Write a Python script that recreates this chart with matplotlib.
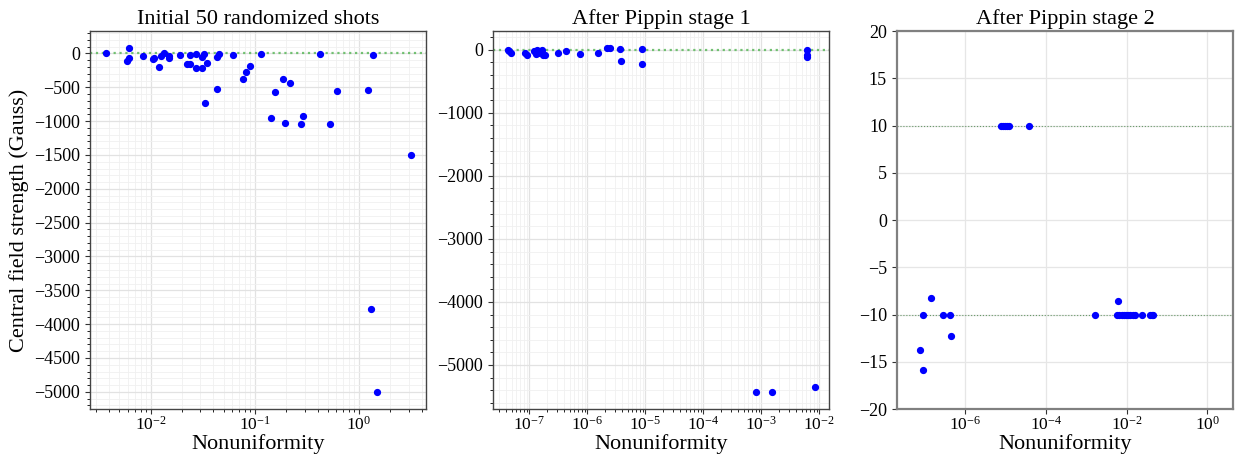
import numpy as np
import matplotlib
matplotlib.use('Agg')
import matplotlib.pyplot as plt

plt.rcParams['font.family'] = ['Liberation Serif', 'DejaVu Serif']
plt.rcParams['mathtext.fontset'] = 'stix'
plt.rcParams['axes.unicode_minus'] = True

# datos leidos del grafico
# panel 1: disparos iniciales
x1 = [0.0037, 0.0062, 0.00597, 0.00624, 0.00838, 0.01045, 0.01084, 0.0120, 0.01257, 0.0133,
      0.0149, 0.0151, 0.0191, 0.0225, 0.0239, 0.0237, 0.0270, 0.0270, 0.0311, 0.0313,
      0.0327, 0.0330, 0.0347, 0.0431, 0.0434, 0.0450, 0.0617, 0.0776, 0.0829, 0.0905,
      0.1138, 0.142, 0.157, 0.186, 0.193, 0.219, 0.277, 0.288, 0.423, 0.531,
      0.615, 1.23, 1.35, 3.13, 1.30, 1.50]
y1 = [10, 78, -113, -69, -34, -78, -64, -201, -39, 8,
      -39, -69, -20, -162, -157, -29, -15, -221, -49, -221,
      -15, -735, -137, -529, -59, -15, -20, -372, -270, -191,
      -10, -960, -564, -377, -1029, -441, -1044, -931, -5, -1039,
      -554, -539, -20, -1504, -3777, -5000]

# panel 2: despues de la etapa 1
x2 = [4.5e-8, 4.8e-8, 4.3e-8, 8.3e-8, 9.2e-8, 1.22e-7, 1.30e-7, 1.37e-7, 1.43e-7, 1.67e-7,
      1.74e-7, 1.86e-7, 3.12e-7, 4.28e-7, 7.38e-7, 1.53e-6, 2.18e-6, 2.46e-6, 3.71e-6, 3.86e-6,
      8.65e-6, 8.87e-6, 6.05e-3, 6.05e-3, 6.05e-3, 8.1e-4, 1.53e-3, 8.3e-3]
y2 = [-21, -47, -10, -53, -89, -26, -63, -10, -53, -10,
      -84, -79, -53, -26, -68, -53, 26, 26, 16, -174,
      21, -232, -10, -79, -110, -5426, -5421, -5353]

# panel 3: despues de la etapa 2
x3 = [7.5e-6, 8.4e-6, 9.4e-6, 1.06e-5, 1.19e-5, 3.9e-5,
      7.66e-8, 8.9e-8, 9.1e-8, 1.44e-7, 2.79e-7, 4.09e-7, 4.33e-7,
      1.61e-3, 6.2e-3, 5.8e-3, 6.6e-3, 7.5e-3, 8.5e-3, 9.6e-3, 1.09e-2, 1.22e-2,
      1.46e-2, 1.64e-2, 2.4e-2, 3.8e-2, 4.3e-2, 4.6e-2]
y3 = [10, 10, 10, 10, 10, 10,
      -13.75, -15.9, -10, -8.21, -10, -10, -12.25,
      -10, -8.53, -10, -10, -10, -10, -10, -10, -10,
      -10, -10, -10, -10, -10, -10]

titulos = ['Initial 50 randomized shots', 'After Pippin stage 1', 'After Pippin stage 2']

fig = plt.figure(figsize=(12.41, 4.54), dpi=100)
ax1 = fig.add_axes([0.0725, 0.0991, 0.2708, 0.8326])
ax2 = fig.add_axes([0.3970, 0.0991, 0.2712, 0.8326])
ax3 = fig.add_axes([0.7226, 0.0991, 0.2712, 0.8326])

for ax, x, y, tit in zip([ax1, ax2, ax3], [x1, x2, x3], [y1, y2, y3], titulos):
    ax.plot(x, y, 'o', color='blue', ms=4.2, zorder=3)
    ax.set_xscale('log')
    ax.set_title(tit, fontsize=16, pad=5)
    ax.set_xlabel('Nonuniformity', fontsize=16, labelpad=0)
    ax.tick_params(labelsize=13, colors='#333333', labelcolor='black')
    ax.tick_params(axis='x', which='major', pad=1.5, labelsize=12.5)

ax1.set_ylabel('Central field strength (Gauss)', fontsize=16)

# paneles 1 y 2 con grilla menor
for ax in [ax1, ax2]:
    ax.axhline(0, color='#5cb85c', ls=':', lw=1.6, alpha=0.85, zorder=2)
    ax.minorticks_on()
    ax.grid(True, which='major', color='#e2e2e2', lw=0.9)
    ax.grid(True, which='minor', color='#f0f0f0', lw=0.6)
    ax.set_axisbelow(True)
    for s in ax.spines.values():
        s.set_color('#444444')
        s.set_linewidth(1.0)

ax1.set_yticks(np.arange(-5000, 1, 500))
ax1.set_xlim(10**-2.584, 10**0.644)
ax2.set_xlim(10**-7.632, 10**-1.828)

# panel 3
ax3.axhline(10, color='#6a9a6a', ls=':', lw=0.8, zorder=2)
ax3.axhline(-10, color='#6a9a6a', ls=':', lw=0.8, zorder=2)
ax3.set_ylim(-20, 20)
ax3.set_yticks(np.arange(-20, 21, 5))
ax3.set_xlim(2e-8, 4.4)
ax3.set_xticks([1e-6, 1e-4, 1e-2, 1e0])
ax3.minorticks_off()
ax3.grid(True, color='#e6e6e6', lw=0.9)
ax3.set_axisbelow(True)
for s in ax3.spines.values():
    s.set_color('#808080')
    s.set_linewidth(1.6)

plt.savefig('out.png', dpi=100)
